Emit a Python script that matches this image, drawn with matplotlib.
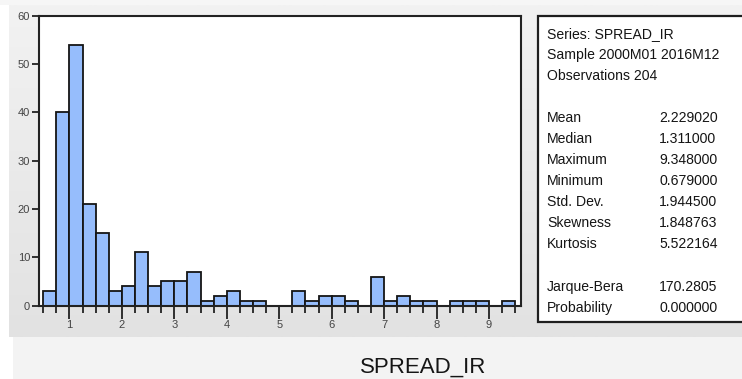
import numpy as np
import matplotlib
matplotlib.use('Agg')
import matplotlib.pyplot as plt
from matplotlib.patches import Rectangle
from matplotlib.colors import LinearSegmentedColormap

# ---- data ----
counts = [3, 40, 54, 21, 15, 3, 4, 11, 4, 5, 5, 7, 1, 2, 3, 1, 1, 0,
          0, 3, 1, 2, 2, 1, 0, 6, 1, 2, 1, 1, 0, 1, 1, 1, 0, 1]
bin_start = 0.5
bin_width = 0.25
x_ticks = [1, 2, 3, 4, 5, 6, 7, 8, 9]
y_ticks = [0, 10, 20, 30, 40, 50, 60]
header_lines = ["Series: SPREAD_IR", "Sample 2000M01 2016M12", "Observations 204"]
stat_labels = ["Mean", "Median", "Maximum", "Minimum", "Std. Dev.", "Skewness", "Kurtosis"]
stat_values = ["2.229020", "1.311000", "9.348000", "0.679000", "1.944500", "1.848763", "5.522164"]
test_labels = ["Jarque-Bera", "Probability"]
test_values = ["170.2805", "0.000000"]
x_label = "SPREAD_IR"

W, H = 742, 379
FONT = 'Liberation Sans'
fig = plt.figure(figsize=(W / 100, H / 100), dpi=100)
fig.patch.set_facecolor('white')

# background in pixel coordinates
bg = fig.add_axes([0, 0, 1, 1], zorder=-10)
grad = np.linspace(0, 1, 200)[:, None]
cmap = LinearSegmentedColormap.from_list('g', ['#f2f2f2', '#e2e2e2'])
bg.imshow(grad, extent=[9, W, 337, 5], cmap=cmap, aspect='auto', interpolation='bilinear')
bg.add_patch(Rectangle((0, 0), W, 5, facecolor='#f6f6f6', edgecolor='none'))
bg.add_patch(Rectangle((13, 337), W, H - 337, facecolor='#f3f3f3', edgecolor='none'))
bg.set_xlim(0, W)
bg.set_ylim(H, 0)
bg.axis('off')

# histogram axes
L, R, T, B = 39, 520.5, 15.7, 305.5
ax = fig.add_axes([L / W, 1 - B / H, (R - L) / W, (B - T) / H])
ax.set_facecolor('white')
lefts = [bin_start + i * bin_width for i in range(len(counts))]
nz_left = [l for l, c in zip(lefts, counts) if c > 0]
nz_count = [c for c in counts if c > 0]
ax.bar(nz_left, nz_count, width=bin_width, align='edge', color='#96bdfc',
       edgecolor='#151515', linewidth=1.3, zorder=2)
ax.set_xlim(0.42, 9.6)
ax.set_ylim(0, 60)
for s in ax.spines.values():
    s.set_linewidth(1.5)
    s.set_color('#222222')
ax.set_xticks(x_ticks)
ax.set_xticklabels([str(t) for t in x_ticks])
edges = sorted(set(nz_left + [l + bin_width for l in nz_left]))
ax.set_xticks(edges, minor=True)
ax.set_yticks(y_ticks)
ax.set_yticklabels([str(t) for t in y_ticks])
ax.tick_params(axis='x', which='major', length=9.5, width=1.3, color='#222222',
               direction='out', pad=1, labelsize=8, labelcolor='#444444')
ax.tick_params(axis='x', which='minor', length=5, width=1.3, color='#222222', direction='out')
ax.tick_params(axis='y', which='major', length=5, width=1.3, color='#222222',
               direction='out', pad=1.5, labelsize=8, labelcolor='#444444')
for lab in ax.get_xticklabels() + ax.get_yticklabels():
    lab.set_family(FONT)

# stats box
bg.add_patch(Rectangle((537.5, 16), 300, 306, facecolor='white', edgecolor='#1e1e1e',
                       linewidth=1.6, clip_on=False, zorder=1))
tx_l, tx_v = 547, 659
fs = 10.1
col = '#151515'
y0 = 38
for i, line in enumerate(header_lines):
    bg.text(tx_l, y0 + i * 21, line, fontsize=fs, family=FONT, color=col, va='baseline', zorder=3)
y1 = 122
for i, (lab, val) in enumerate(zip(stat_labels, stat_values)):
    bg.text(tx_l, y1 + i * 21, lab, fontsize=fs, family=FONT, color=col, va='baseline', zorder=3)
    bg.text(tx_v, y1 + i * 21, val, fontsize=fs, family=FONT, color=col, va='baseline', zorder=3)
y2 = 291
for i, (lab, val) in enumerate(zip(test_labels, test_values)):
    bg.text(tx_l, y2 + i * 21, lab, fontsize=fs, family=FONT, color=col, va='baseline', zorder=3)
    bg.text(tx_v, y2 + i * 21, val, fontsize=fs, family=FONT, color=col, va='baseline', zorder=3)

bg.text(423, 372.5, x_label, fontsize=16, family=FONT, color='#151515', ha='center', va='baseline')

fig.savefig('out.png', dpi=100, facecolor=fig.get_facecolor())
